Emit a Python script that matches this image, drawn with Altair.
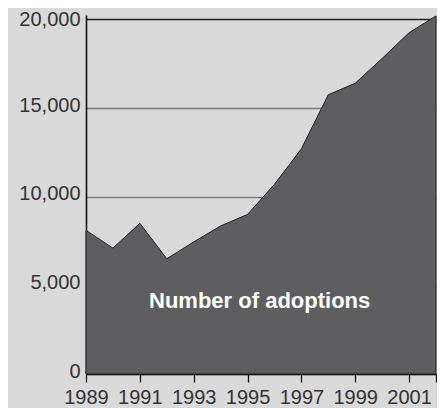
import altair as alt
import pandas as pd

years = [1989, 1990, 1991, 1992, 1993, 1994, 1995, 1996, 1997, 1998, 1999, 2000, 2001, 2002]
adoptions = [8100, 7100, 8500, 6500, 7450, 8350, 9000, 10700, 12700, 15750, 16400, 17800, 19250, 20200]
x_ticks = [1989, 1991, 1993, 1995, 1997, 1999, 2001, 2002]
y_ticks = [0, 5000, 10000, 15000, 20000]
label_text = ["Number of adoptions"]
label_x = [1995.45]
label_y = [4100]

df = pd.DataFrame({"year": years, "adoptions": adoptions})
lab = pd.DataFrame({"t": label_text, "year": label_x, "adoptions": label_y})

FONT = "Liberation Sans"

xscale = alt.Scale(domain=[1989, 2002], nice=False, zero=False)
yscale = alt.Scale(domain=[0, 20250], nice=False)

xaxis = alt.Axis(values=x_ticks, format="d",
                 labelExpr="datum.value == 2002 ? '' : datum.label",
                 labelOverlap=False, labelFlush=False,
                 tickSize=8, tickColor="#111", tickWidth=1.3,
                 domainColor="#111", domainWidth=1.6,
                 labelFont=FONT, labelFontSize=20, labelColor="#333",
                 labelPadding=5, grid=False)
yaxis = alt.Axis(values=y_ticks, format=",d", ticks=False,
                 labelOverlap=False, labelFlush=False,
                 labelOffset={"condition": {"test": "datum.value == 20000", "value": 0}, "value": -3},
                 domainColor="#111", domainWidth=1.6,
                 labelFont=FONT, labelFontSize=20, labelColor="#333",
                 labelPadding=6,
                 grid=True, gridWidth=1.5,
                 gridColor=alt.ConditionalAxisColor(
                     condition={"test": "datum.value == 20000", "value": "#222"},
                     value="#7a7a7a"))

area = alt.Chart(df).mark_area(
    color="#5e5e60", stroke="#1e1e1e", strokeWidth=1, opacity=1
).encode(
    x=alt.X("year:Q", scale=xscale, title=None, axis=xaxis),
    y=alt.Y("adoptions:Q", scale=yscale, title=None, axis=yaxis),
)

text = alt.Chart(lab).mark_text(
    font=FONT, fontSize=22, fontWeight="bold", color="white",
    align="center", baseline="middle"
).encode(
    x=alt.X("year:Q", scale=xscale, title=None, axis=xaxis),
    y=alt.Y("adoptions:Q", scale=yscale, title=None, axis=yaxis),
    text="t:N",
)

chart = (area + text).properties(
    width=350, height=359, background="#d9d9d9",
    autosize=alt.AutoSizeParams(type="none"),
    padding={"left": 78, "top": 7, "right": 1, "bottom": 40}
).configure_view(stroke=None)

chart.save("out.html", embed_options={"renderer": "svg", "actions": False})
